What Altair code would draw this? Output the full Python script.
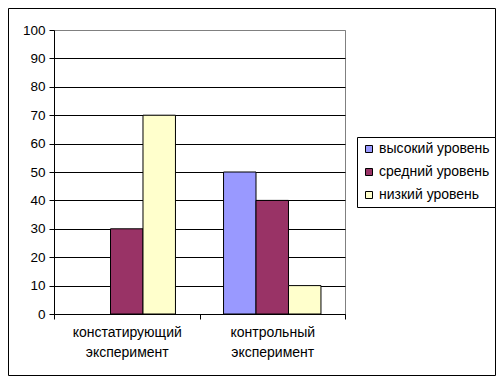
import altair as alt
import pandas as pd

categories = ["констатирующий эксперимент", "контрольный эксперимент"]
series = ["высокий уровень", "средний уровень", "низкий уровень"]
high = [0, 50]
mid = [30, 40]
low = [70, 10]
colors = ["#9999FF", "#993366", "#FFFFCC"]
y_ticks = list(range(0, 101, 10))

rows = []
for i, c in enumerate(categories):
    for s, vals in zip(series, [high, mid, low]):
        rows.append({"category": c, "series": s, "value": vals[i]})
df = pd.DataFrame(rows)
df = df[df["value"] > 0]

FONT = "Liberation Sans"

bars = alt.Chart(df).mark_bar(stroke="black", strokeWidth=1).encode(
    x=alt.X("category:N", sort=categories, title=None,
            scale=alt.Scale(paddingInner=0, paddingOuter=0),
            axis=alt.Axis(labelAngle=0, labelExpr="split(datum.label, ' ')",
                          labelLineHeight=20, labelPadding=6, tickBand="extent",
                          tickSize=5, tickColor="black", domainColor="black",
                          labelFontSize=14, labelColor="black", labelFont=FONT,
                          labelLimit=200, grid=False)),
    xOffset=alt.XOffset("series:N", sort=series,
                        scale=alt.Scale(paddingInner=0, paddingOuter=0.74)),
    y=alt.Y("value:Q", title=None,
            scale=alt.Scale(domain=[0, 100], nice=False),
            axis=alt.Axis(values=y_ticks, tickSize=5, tickColor="black",
                          domainColor="black", labelFontSize=13.5,
                          labelColor="black", labelFont=FONT, labelPadding=4,
                          gridColor=alt.condition("datum.value == 100", alt.value("#808080"), alt.value("black")),
                          gridWidth=1)),
    color=alt.Color("series:N", sort=series,
                    scale=alt.Scale(domain=series, range=colors),
                    legend=alt.Legend(title=None, orient="none", legendX=303, legendY=107,
                                      strokeColor="black", fillColor="white", padding=5,
                                      symbolType="square", symbolSize=49,
                                      symbolStrokeColor="black", symbolStrokeWidth=1,
                                      labelFontSize=14, labelFont=FONT, labelColor="black",
                                      labelLimit=300, rowPadding=9, labelOffset=3)),
)

frame = alt.Chart(pd.DataFrame({"a": [0]})).mark_rect(
    fill=None, stroke="black", strokeWidth=1
).encode(
    x=alt.value(-45.5), x2=alt.value(441.5), y=alt.value(-21.5), y2=alt.value(345.5)
)

chart = alt.layer(bars, frame).properties(
    width=291, height=284,
    padding={"left": 46, "top": 22, "right": 151, "bottom": 62},
    autosize=alt.AutoSizeParams(type="none"),
    background="white",
).configure_view(stroke="#808080", strokeWidth=1)

chart.save("out.html", embed_options={"renderer": "svg", "actions": False})
